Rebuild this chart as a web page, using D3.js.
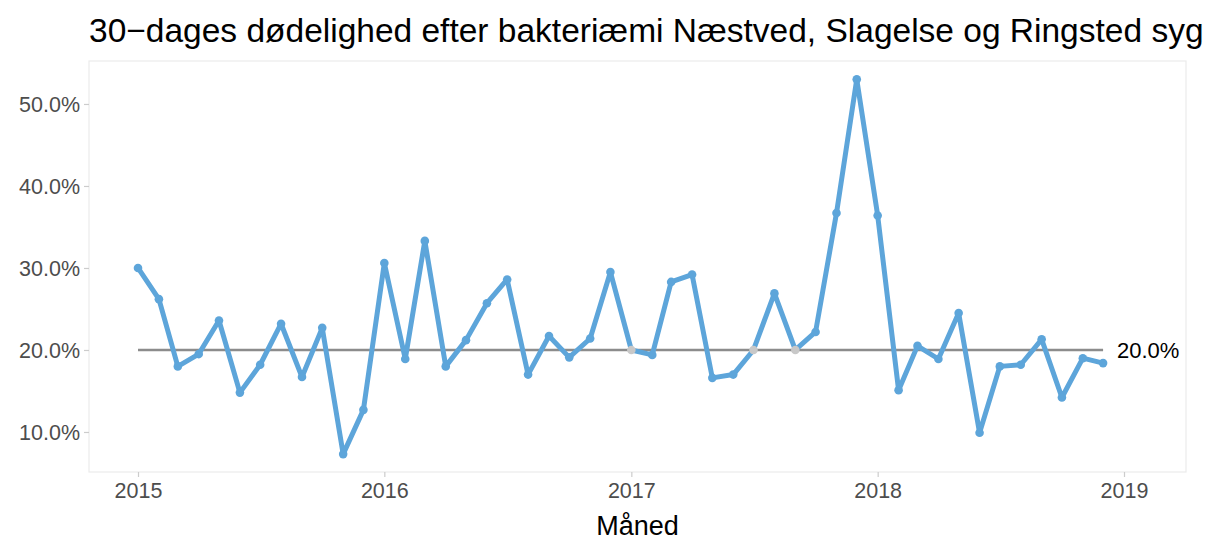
<!DOCTYPE html>
<html>
<head>
<meta charset="utf-8">
<script src="https://cdn.jsdelivr.net/npm/d3@7"></script>
<style>
  html, body { margin: 0; padding: 0; background: #fff; overflow: hidden; }
  svg { display: block; font-family: "Liberation Sans", Arial, sans-serif; }
</style>
</head>
<body>
<svg id="chart" width="1209" height="541"></svg>
<script>
// ---- data ----
const months = [
  "2015-01","2015-02","2015-03","2015-04","2015-05","2015-06","2015-07","2015-08","2015-09","2015-10","2015-11","2015-12",
  "2016-01","2016-02","2016-03","2016-04","2016-05","2016-06","2016-07","2016-08","2016-09","2016-10","2016-11","2016-12",
  "2017-01","2017-02","2017-03","2017-04","2017-05","2017-06","2017-07","2017-08","2017-09","2017-10","2017-11","2017-12",
  "2018-01","2018-02","2018-03","2018-04","2018-05","2018-06","2018-07","2018-08","2018-09","2018-10","2018-11","2018-12"
];
const mortality = [
  30.0, 26.2, 18.0, 19.5, 23.6, 14.8, 18.2, 23.2, 16.7, 22.7, 7.3, 12.7,
  30.6, 18.9, 33.3, 18.0, 21.2, 25.7, 28.6, 17.0, 21.7, 19.1, 21.4, 29.5,
  20.0, 19.4, 28.3, 29.2, 16.6, 17.0, 20.0, 26.9, 20.0, 22.2, 36.7, 53.0,
  36.4, 15.1, 20.5, 18.9, 24.5, 9.9, 18.0, 18.2, 21.3, 14.2, 19.0, 18.4
];
const centerLine = 20.0;
const yTicks = [10, 20, 30, 40, 50];
const xTickYears = ["2015", "2016", "2017", "2018", "2019"];
const titleText = "30\u2212dages dødelighed efter bakteriæmi Næstved, Slagelse og Ringsted syg";
const xTitle = "Måned";

// ---- layout ----
const panel = { left: 89, right: 1186, top: 61, bottom: 472 };
const parse = d3.utcParse("%Y-%m");
const parseY = d3.utcParse("%Y");
const data = months.map((m, i) => ({ date: parse(m), value: mortality[i] }));

const x = d3.scaleUtc()
  .domain([parseY("2015"), parseY("2019")])
  .range([138, 1124]);
const y = d3.scaleLinear()
  .domain([5.12, 55.24])
  .range([panel.bottom, panel.top]);

const svg = d3.select("#chart");

// panel border
svg.append("rect")
  .attr("x", panel.left).attr("y", panel.top)
  .attr("width", panel.right - panel.left)
  .attr("height", panel.bottom - panel.top)
  .attr("fill", "#fff")
  .attr("stroke", "#EBEBEB").attr("stroke-width", 1.2);

// y axis
const yAxis = d3.axisLeft(y).tickValues(yTicks).tickSize(5).tickPadding(4)
  .tickFormat(d => d3.format(".1f")(d) + "%");
const gy = svg.append("g").attr("transform", `translate(${panel.left},0)`).call(yAxis);
gy.select(".domain").remove();
gy.selectAll(".tick line").attr("stroke", "#CCCCCC").attr("stroke-width", 1.2);
gy.selectAll(".tick text").attr("fill", "#4D4D4D").style("font-size", "21.5px")
  .attr("dy", "0.36em");

// x axis
const xAxis = d3.axisBottom(x).tickValues(xTickYears.map(parseY)).tickSize(5).tickPadding(6)
  .tickFormat(d3.utcFormat("%Y"));
const gx = svg.append("g").attr("transform", `translate(0,${panel.bottom})`).call(xAxis);
gx.select(".domain").remove();
gx.selectAll(".tick line").attr("stroke", "#CCCCCC").attr("stroke-width", 1.2);
gx.selectAll(".tick text").attr("fill", "#4D4D4D").style("font-size", "21.5px")
  .attr("dy", "0.71em");

// center line
svg.append("line")
  .attr("x1", x(data[0].date)).attr("x2", x(data[data.length - 1].date))
  .attr("y1", y(centerLine)).attr("y2", y(centerLine))
  .attr("stroke", "#8C8C8C").attr("stroke-width", 2.4);

// data line
svg.append("path")
  .datum(data)
  .attr("fill", "none")
  .attr("stroke", "#5DA5DA")
  .attr("stroke-width", 5)
  .attr("stroke-linejoin", "round")
  .attr("d", d3.line().x(d => x(d.date)).y(d => y(d.value)));

// points
svg.append("g").selectAll("circle")
  .data(data)
  .join("circle")
  .attr("cx", d => x(d.date))
  .attr("cy", d => y(d.value))
  .attr("r", 4.3)
  .attr("fill", d => d.value === centerLine ? "#C8C8C8" : "#5DA5DA");

// center line label
svg.append("text")
  .attr("x", 1117).attr("y", y(centerLine))
  .attr("dy", "0.36em")
  .attr("fill", "#000")
  .style("font-size", "22px")
  .text(d3.format(".1f")(centerLine) + "%");

// title
svg.append("text")
  .attr("x", 89).attr("y", 42)
  .attr("fill", "#000")
  .style("font-size", "33.5px")
  .text(titleText);

// x axis title
svg.append("text")
  .attr("x", (panel.left + panel.right) / 2).attr("y", 535)
  .attr("text-anchor", "middle")
  .attr("fill", "#000")
  .style("font-size", "27px")
  .text(xTitle);
</script>
</body>
</html>
